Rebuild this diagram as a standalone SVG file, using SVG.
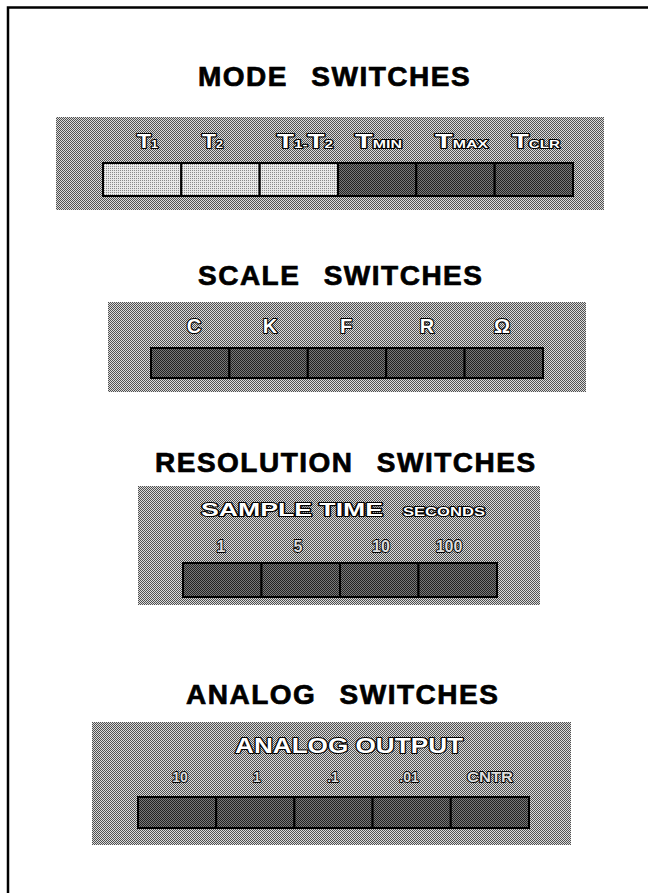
<svg xmlns="http://www.w3.org/2000/svg" width="648" height="893" viewBox="0 0 648 893">
<defs>
<pattern id="panelTex" width="2" height="2" patternUnits="userSpaceOnUse">
<rect width="2" height="2" fill="#dadada"/>
<rect width="1" height="1" fill="#505050"/>
<rect x="1" y="1" width="1" height="1" fill="#505050"/>
</pattern>
<pattern id="darkTex" width="2" height="2" patternUnits="userSpaceOnUse">
<rect width="2" height="2" fill="#7a7a7a"/>
<rect width="1" height="1" fill="#222"/>
<rect x="1" y="1" width="1" height="1" fill="#222"/>
</pattern>
<pattern id="lightTex" width="2" height="2" patternUnits="userSpaceOnUse">
<rect width="2" height="2" fill="#e8e8e8"/>
<rect width="1" height="1" fill="#8a8a8a"/>
</pattern>
</defs>
<style>
.title{font-family:"Liberation Sans",Arial,sans-serif;font-weight:bold;font-size:28px;fill:#000;stroke:#000;stroke-width:0.7;letter-spacing:1.5px;word-spacing:14px}
.panel{fill:url(#panelTex)}
.dark{fill:url(#darkTex);stroke:#000;stroke-width:2}
.light{fill:url(#lightTex);stroke:#000;stroke-width:2}
.lbl{font-family:"Liberation Sans",Arial,sans-serif;font-weight:bold;fill:#fff;stroke:#000;stroke-width:2.2;paint-order:stroke;stroke-linejoin:round}
.num{font-family:"Liberation Sans",Arial,sans-serif;font-weight:bold;fill:#ddd;stroke:#000;stroke-width:1.8;paint-order:stroke;stroke-linejoin:round}
.frame{fill:none;stroke:#000;stroke-width:2.5}
</style>
<rect width="648" height="893" fill="#fff"/>
<path class="frame" d="M8,893 V7.5 H648"/>

<g id="mode-switches">
<text class="title" x="198" y="86">MODE SWITCHES</text>
<rect class="panel" x="56" y="117" width="548" height="93"/>
<rect class="light" x="103" y="163" width="78.3" height="33"/>
<rect class="light" x="181.3" y="163" width="78.3" height="33"/>
<rect class="light" x="259.7" y="163" width="78.3" height="33"/>
<rect class="dark" x="338" y="163" width="78.3" height="33"/>
<rect class="dark" x="416.3" y="163" width="78.3" height="33"/>
<rect class="dark" x="494.7" y="163" width="78.3" height="33"/>
<text class="lbl" x="137" y="148" font-size="20" textLength="21" lengthAdjust="spacingAndGlyphs">T<tspan font-size="11">1</tspan></text>
<text class="lbl" x="202" y="148" font-size="20" textLength="21" lengthAdjust="spacingAndGlyphs">T<tspan font-size="11">2</tspan></text>
<text class="lbl" x="277" y="148" font-size="20" textLength="56" lengthAdjust="spacingAndGlyphs">T<tspan font-size="11">1</tspan><tspan font-size="11">-</tspan>T<tspan font-size="11">2</tspan></text>
<text class="lbl" x="355" y="148" font-size="20" textLength="47" lengthAdjust="spacingAndGlyphs">T<tspan font-size="11">MIN</tspan></text>
<text class="lbl" x="435" y="148" font-size="20" textLength="53" lengthAdjust="spacingAndGlyphs">T<tspan font-size="11">MAX</tspan></text>
<text class="lbl" x="512" y="148" font-size="20" textLength="48" lengthAdjust="spacingAndGlyphs">T<tspan font-size="11">CLR</tspan></text>
</g>

<g id="scale-switches">
<text class="title" x="198" y="285">SCALE SWITCHES</text>
<rect class="panel" x="108" y="302" width="478" height="90"/>
<rect class="dark" x="151" y="348" width="78.4" height="30"/>
<rect class="dark" x="229.4" y="348" width="78.4" height="30"/>
<rect class="dark" x="307.8" y="348" width="78.4" height="30"/>
<rect class="dark" x="386.2" y="348" width="78.4" height="30"/>
<rect class="dark" x="464.6" y="348" width="78.4" height="30"/>
<text class="lbl" x="194" y="333" font-size="20" text-anchor="middle">C</text>
<text class="lbl" x="270" y="333" font-size="20" text-anchor="middle">K</text>
<text class="lbl" x="346" y="333" font-size="20" text-anchor="middle">F</text>
<text class="lbl" x="427" y="333" font-size="20" text-anchor="middle">R</text>
<text class="lbl" x="502" y="333" font-size="20" text-anchor="middle">Ω</text>
</g>

<g id="resolution-switches">
<text class="title" x="155" y="472">RESOLUTION SWITCHES</text>
<rect class="panel" x="138" y="486" width="402" height="119"/>
<rect class="dark" x="183" y="563" width="78.5" height="34"/>
<rect class="dark" x="261.5" y="563" width="78.5" height="34"/>
<rect class="dark" x="340" y="563" width="78.5" height="34"/>
<rect class="dark" x="418.5" y="563" width="78.5" height="34"/>
<text class="lbl" x="201" y="516" font-size="18" textLength="182" lengthAdjust="spacingAndGlyphs">SAMPLE TIME</text>
<text class="lbl" x="403" y="516" font-size="12" stroke-width="1.6" textLength="82" lengthAdjust="spacingAndGlyphs">SECONDS</text>
<text class="num" x="221" y="552" font-size="16" text-anchor="middle">1</text>
<text class="num" x="298" y="552" font-size="16" text-anchor="middle">5</text>
<text class="num" x="381" y="552" font-size="16" text-anchor="middle">10</text>
<text class="num" x="449" y="552" font-size="16" text-anchor="middle">100</text>
</g>

<g id="analog-switches">
<text class="title" x="186" y="704">ANALOG SWITCHES</text>
<rect class="panel" x="92" y="722" width="479" height="123"/>
<rect class="dark" x="138" y="797" width="78.2" height="31"/>
<rect class="dark" x="216.2" y="797" width="78.2" height="31"/>
<rect class="dark" x="294.4" y="797" width="78.2" height="31"/>
<rect class="dark" x="372.6" y="797" width="78.2" height="31"/>
<rect class="dark" x="450.8" y="797" width="78.2" height="31"/>
<text class="lbl" x="235" y="753" font-size="22" textLength="228" lengthAdjust="spacingAndGlyphs">ANALOG OUTPUT</text>
<text class="num" x="180" y="782" font-size="14" text-anchor="middle">10</text>
<text class="num" x="257" y="782" font-size="14" text-anchor="middle">1</text>
<text class="num" x="333" y="782" font-size="14" text-anchor="middle">.1</text>
<text class="num" x="409" y="782" font-size="14" text-anchor="middle">.01</text>
<text class="num" x="490" y="782" font-size="14" text-anchor="middle" textLength="46" lengthAdjust="spacingAndGlyphs">CNTR</text>
</g>
</svg>
